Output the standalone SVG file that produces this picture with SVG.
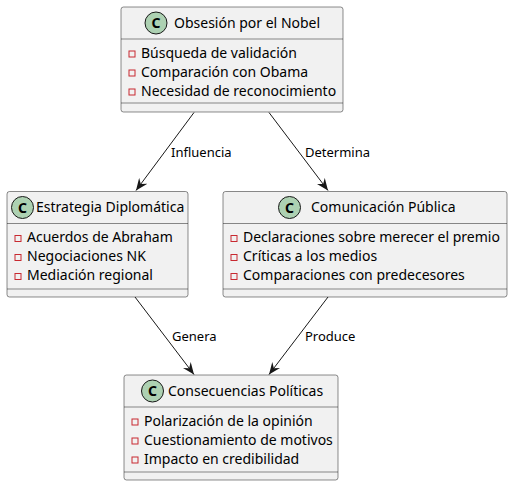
<svg xmlns="http://www.w3.org/2000/svg" width="513" height="486" viewBox="0 0 513 486">
<defs>
<style>
.box{fill:#F1F1F1;stroke:#181818;stroke-width:0.5}
.sep{stroke:#181818;stroke-width:0.5}
.circ{fill:#ADD1B2;stroke:#181818;stroke-width:1}
.cl{font-family:"Noto Sans",sans-serif;font-size:14px;font-weight:bold;fill:#000;text-anchor:middle}
.t{font-family:"Noto Sans",sans-serif;font-size:14px;fill:#000}
.m{font-family:"Noto Sans",sans-serif;font-size:14px;fill:#000}
.sq{fill:none;stroke:#C82930;stroke-width:1}
.lbl{font-family:"Noto Sans",sans-serif;font-size:13px;fill:#000}
.edge{fill:none;stroke:#181818;stroke-width:1}
</style>
<marker id="ah" viewBox="0 0 12 10" refX="12" refY="5" markerWidth="12" markerHeight="10" markerUnits="userSpaceOnUse" orient="auto">
<path d="M0,0 L12,5 L0,10 L4,5 Z" fill="#181818"/>
</marker>
</defs>
<g id="connectors">
<path class="edge" d="M194,112.5 L136,190.5" marker-end="url(#ah)"/>
<text class="lbl" x="171" y="157">Influencia</text>
<path class="edge" d="M269,112.5 L328,190.5" marker-end="url(#ah)"/>
<text class="lbl" x="305" y="157">Determina</text>
<path class="edge" d="M135,297 L194,374.5" marker-end="url(#ah)"/>
<text class="lbl" x="172" y="341">Genera</text>
<path class="edge" d="M328,297 L269,374.5" marker-end="url(#ah)"/>
<text class="lbl" x="305" y="341">Produce</text>
</g>
<g id="obsesion">
<rect class="box" x="121" y="7" width="222" height="105" rx="2.5"/>
<line class="sep" x1="121" y1="39" x2="343" y2="39"/>
<line class="sep" x1="121" y1="103" x2="343" y2="103"/>
<circle class="circ" cx="156" cy="23" r="11"/>
<text class="cl" x="156" y="28">C</text>
<text class="t" x="174" y="28">Obsesión por el Nobel</text>
<rect class="sq" x="129" y="51" width="6" height="6"/>
<text class="m" x="141" y="57.5">Búsqueda de validación</text>
<rect class="sq" x="129" y="70" width="6" height="6"/>
<text class="m" x="141" y="76.5">Comparación con Obama</text>
<rect class="sq" x="129" y="89" width="6" height="6"/>
<text class="m" x="141" y="95.5">Necesidad de reconocimiento</text>
</g>
<g id="estrategia">
<rect class="box" x="7" y="191.5" width="181" height="105.5" rx="2.5"/>
<line class="sep" x1="7" y1="223.5" x2="188" y2="223.5"/>
<line class="sep" x1="7" y1="289" x2="188" y2="289"/>
<circle class="circ" cx="22.5" cy="207.5" r="11"/>
<text class="cl" x="22.5" y="212.5">C</text>
<text class="t" x="36" y="212">Estrategia Diplomática</text>
<rect class="sq" x="15" y="235.5" width="6" height="6"/>
<text class="m" x="27" y="242">Acuerdos de Abraham</text>
<rect class="sq" x="15" y="254.5" width="6" height="6"/>
<text class="m" x="27" y="261">Negociaciones NK</text>
<rect class="sq" x="15" y="273.5" width="6" height="6"/>
<text class="m" x="27" y="280">Mediación regional</text>
</g>
<g id="comunicacion">
<rect class="box" x="223" y="191.5" width="284" height="105.5" rx="2.5"/>
<line class="sep" x1="223" y1="223.5" x2="507" y2="223.5"/>
<line class="sep" x1="223" y1="289" x2="507" y2="289"/>
<circle class="circ" cx="289.5" cy="207.5" r="11"/>
<text class="cl" x="289.5" y="212.5">C</text>
<text class="t" x="311" y="212">Comunicación Pública</text>
<rect class="sq" x="231" y="235.5" width="6" height="6"/>
<text class="m" x="243" y="242">Declaraciones sobre merecer el premio</text>
<rect class="sq" x="231" y="254.5" width="6" height="6"/>
<text class="m" x="243" y="261">Críticas a los medios</text>
<rect class="sq" x="231" y="273.5" width="6" height="6"/>
<text class="m" x="243" y="280">Comparaciones con predecesores</text>
</g>
<g id="consecuencias">
<rect class="box" x="124" y="375" width="214" height="105" rx="2.5"/>
<line class="sep" x1="124" y1="407" x2="338" y2="407"/>
<line class="sep" x1="124" y1="472" x2="338" y2="472"/>
<circle class="circ" cx="152.5" cy="391" r="11"/>
<text class="cl" x="152.5" y="396">C</text>
<text class="t" x="168" y="396">Consecuencias Políticas</text>
<rect class="sq" x="132" y="419" width="6" height="6"/>
<text class="m" x="144" y="425.5">Polarización de la opinión</text>
<rect class="sq" x="132" y="438" width="6" height="6"/>
<text class="m" x="144" y="444.5">Cuestionamiento de motivos</text>
<rect class="sq" x="132" y="457" width="6" height="6"/>
<text class="m" x="144" y="463.5">Impacto en credibilidad</text>
</g>
</svg>
